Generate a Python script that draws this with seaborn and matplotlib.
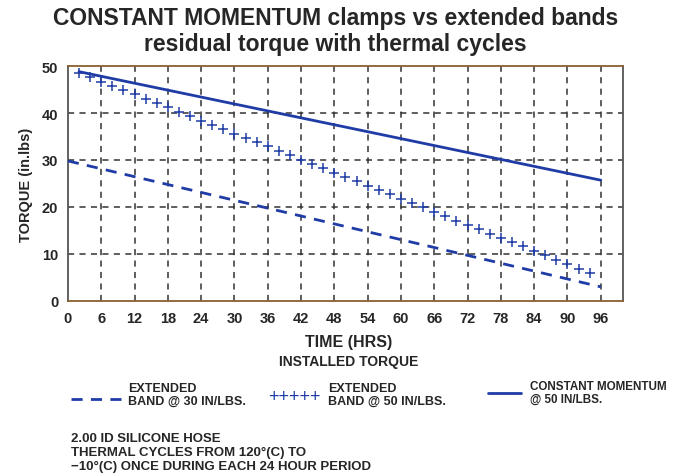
import matplotlib
matplotlib.use("Agg")
import matplotlib.pyplot as plt
import seaborn as sns
import pandas as pd

# data
hours_ticks = [0, 6, 12, 18, 24, 30, 36, 42, 48, 54, 60, 66, 72, 78, 84, 90, 96]
torque_ticks = [0, 10, 20, 30, 40, 50]

cm_hours = [2, 96]
cm_torque = [48.8, 25.7]

ext30_hours = [0, 96]
ext30_torque = [29.8, 3.0]

ext50_hours = [2, 4, 6, 8, 10, 12, 14, 16, 18, 20, 22, 24, 26, 28, 30, 32, 34, 36, 38, 40,
               42, 44, 46, 48, 50, 52, 54, 56, 58, 60, 62, 64, 66, 68, 70, 72, 74, 76, 78, 80,
               82, 84, 86, 88, 90, 92, 94]
ext50_torque = [48.6, 47.7, 46.7, 45.8, 44.9, 44.0, 43.0, 42.1, 41.2, 40.3, 39.3, 38.4, 37.5,
                36.6, 35.6, 34.7, 33.8, 32.9, 31.9, 31.0, 30.1, 29.2, 28.2, 27.3, 26.4, 25.5,
                24.5, 23.6, 22.7, 21.7, 20.8, 19.9, 19.0, 18.0, 17.1, 16.2, 15.3, 14.3, 13.4,
                12.5, 11.6, 10.6, 9.7, 8.8, 7.9, 6.9, 6.0]

BLUE = "#1f3ca6"
GRID = "#333333"

sns.set_style("white")
plt.rcParams['font.family'] = ['Liberation Sans', 'DejaVu Sans']

fig = plt.figure(figsize=(6.79, 4.77), dpi=100)
ax = fig.add_axes([0.100, 0.367, 0.8175, 0.4925])

# grid (dashed)
for h in hours_ticks[1:]:
    ax.axvline(h, color=GRID, lw=1.1, dashes=(4, 3.5), zorder=1)
for t in torque_ticks[1:-1]:
    ax.axhline(t, color=GRID, lw=1.1, dashes=(4, 3.5), zorder=1)

cm = pd.DataFrame({"hours": cm_hours, "torque": cm_torque})
e30 = pd.DataFrame({"hours": ext30_hours, "torque": ext30_torque})
e50 = pd.DataFrame({"hours": ext50_hours, "torque": ext50_torque})

sns.lineplot(data=cm, x="hours", y="torque", ax=ax, color=BLUE, lw=2.0, zorder=3)
sns.lineplot(data=e30, x="hours", y="torque", ax=ax, color=BLUE, lw=2.0, zorder=3,
             dashes=False).lines[-1].set_dashes((4, 3))
sns.scatterplot(data=e50, x="hours", y="torque", ax=ax, color=BLUE, marker="+",
                s=45, linewidth=1.1, zorder=3)

ax.set_xlim(0, 100)
ax.set_ylim(0, 50)
ax.set_xticks(hours_ticks)
ax.set_yticks(torque_ticks)
ax.tick_params(axis="both", length=5, width=1.2, color=GRID, direction="out",
               labelsize=10.5, pad=2)
for lbl in ax.get_xticklabels() + ax.get_yticklabels():
    lbl.set_fontweight("bold")
for s in ax.spines.values():
    s.set_color("#555555")
    s.set_linewidth(1.3)
ax.spines["top"].set_color("#8a6030")
ax.spines["bottom"].set_color("#8a6030")
ax.set_xlabel("")
ax.set_ylabel("TORQUE (in.lbs)", fontsize=10.5, fontweight="bold", labelpad=6)

fig.text(0.494, 0.962, "CONSTANT MOMENTUM clamps vs extended bands", ha="center",
         va="center", fontsize=16.5, fontweight="bold")
fig.text(0.494, 0.906, "residual torque with thermal cycles", ha="center",
         va="center", fontsize=16.5, fontweight="bold")

fig.text(0.513, 0.281, "TIME (HRS)", ha="center", va="center", fontsize=11.5, fontweight="bold")
fig.text(0.513, 0.241, "INSTALLED TORQUE", ha="center", va="center", fontsize=10, fontweight="bold")

# legend built by hand below the chart
fig.add_artist(plt.Line2D([0.105, 0.183], [0.162, 0.162], color=BLUE, lw=2.0, dashes=(4, 3)))
fig.text(0.188, 0.172, "EXTENDED\nBAND @ 30 IN/LBS.", ha="left", va="center", fontsize=9,
         fontweight="bold", linespacing=1.1)
fig.text(0.434, 0.166, "+++++", ha="center", va="center", fontsize=13, color=BLUE)
fig.text(0.483, 0.172, "EXTENDED\nBAND @ 50 IN/LBS.", ha="left", va="center", fontsize=9,
         fontweight="bold", linespacing=1.1)
fig.add_artist(plt.Line2D([0.718, 0.768], [0.175, 0.175], color=BLUE, lw=2.0))
fig.text(0.780, 0.175, "CONSTANT MOMENTUM\n@ 50 IN/LBS.", ha="left", va="center", fontsize=8.4,
         fontweight="bold", linespacing=1.1)

fig.text(0.105, 0.050, "2.00 ID SILICONE HOSE\nTHERMAL CYCLES FROM 120°(C) TO\n"
         "\u221210°(C) ONCE DURING EACH 24 HOUR PERIOD", ha="left", va="center",
         fontsize=9.5, fontweight="bold", linespacing=1.2)

fig.savefig("out.png", dpi=100)
